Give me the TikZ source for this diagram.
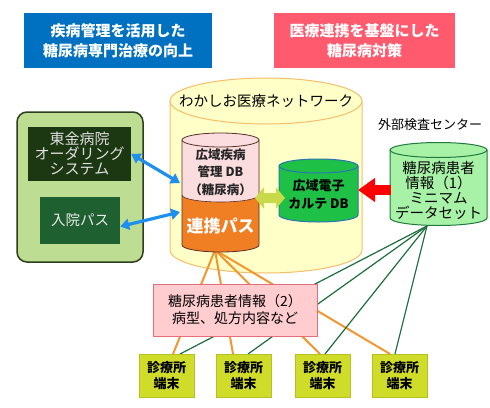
\documentclass[tikz,border=0pt]{standalone}
\usepackage{fontspec}
\setmainfont{Noto Sans CJK JP}
\usetikzlibrary{arrows.meta}
\definecolor{tblue}{HTML}{0070C0}
\definecolor{tpink}{HTML}{FF5A6E}
\definecolor{cylY}{HTML}{FFFFC8}
\definecolor{cylYe}{HTML}{F5BE6A}
\definecolor{panel}{HTML}{BCDD92}
\definecolor{panele}{HTML}{2C3E1E}
\definecolor{darkbox}{HTML}{1C3812}
\definecolor{nyuin}{HTML}{1E6030}
\definecolor{pkcyl}{HTML}{FBDDE0}
\definecolor{pkcyle}{HTML}{5A2E2A}
\definecolor{orcyl}{HTML}{F07E22}
\definecolor{grcyl}{HTML}{1EC046}
\definecolor{grcyle}{HTML}{2E74B5}
\definecolor{ltcyl}{HTML}{A8F2A8}
\definecolor{ltcyle}{HTML}{1F7A3C}
\definecolor{pbox}{HTML}{FFCCCF}
\definecolor{pboxe}{HTML}{E66E7A}
\definecolor{term}{HTML}{D0DC2A}
\definecolor{terme}{HTML}{B3C21E}
\definecolor{oline}{HTML}{F3962E}
\definecolor{gline}{HTML}{1C6E3C}
\definecolor{barrow}{HTML}{1E8FEF}
\definecolor{yarrow}{HTML}{C8D94A}
\begin{document}
\begin{tikzpicture}[x=1pt,y=1pt,
  titlebox/.style={minimum width=#1, minimum height=55pt, inner sep=0pt, align=center, text=white,
    font=\fontsize{15}{20}\selectfont\bfseries},
  termbox/.style={draw=terme, fill=term, line width=0.8pt, minimum width=55pt, minimum height=43pt,
    inner sep=0pt, align=center, font=\fontsize{13}{16}\selectfont\bfseries},
  orl/.style={draw=oline, line width=2pt},
  grl/.style={draw=gline, line width=1.2pt},
  blarrow/.style={draw=barrow, line width=3.2pt, {Triangle[length=9pt,width=11pt]}-{Triangle[length=9pt,width=11pt]}},
  lbl/.style={inner sep=0pt, align=center}]
\useasboundingbox (0,0) rectangle (490,-407);
% title boxes
\node[titlebox=188pt, fill=tblue] (t1) at (118,-40.5) {疾病管理を活用した\\糖尿病専門治療の向上};
\node[titlebox=181pt, fill=tpink] (t2) at (364.5,-40.5) {医療連携を基盤にした\\糖尿病対策};
% big yellow cylinder
\fill[cylY] (170,-101) -- (170,-250) arc[start angle=180,end angle=360,x radius=96,y radius=23] -- (362,-101) -- cycle;
\draw[cylYe, line width=1pt] (170,-101) -- (170,-250) arc[start angle=180,end angle=360,x radius=96,y radius=23] -- (362,-101);
\filldraw[fill=cylY, draw=cylYe, line width=1pt] (266,-101) ellipse [x radius=96, y radius=23];
\node[lbl, font=\fontsize{14.5}{16}\selectfont] (net) at (266,-101) {わかしお医療ネットワーク};
% left panel
\draw[fill=panel, draw=panele, line width=1.5pt, rounded corners=10pt] (17,-112) rectangle (143,-262);
\node[fill=darkbox, minimum width=103pt, minimum height=54pt, inner sep=0pt, align=center, text=white!88!black,
  font=\fontsize{15}{15}\selectfont] (order) at (79.5,-154) {東金病院\\オーダリング\\システム};
\node[fill=nyuin, minimum width=80pt, minimum height=47pt, inner sep=0pt, text=white!92!black,
  font=\fontsize{14.5}{16}\selectfont] (nyuin) at (80,-220.5) {入院パス};
% connection points
\coordinate (ofan) at (215,-250);
\coordinate (gfan) at (427,-226);
\path (166.5,-375.5) coordinate (c1) (243.5,-375.5) coordinate (c2) (322.5,-375.5) coordinate (c3) (399.5,-375.5) coordinate (c4);
% orange lines
\draw[orl] (ofan) -- ([xshift=6.5pt,yshift=21.5pt]c1);
\draw[orl] (ofan) -- ([xshift=-10.5pt,yshift=21.5pt]c2);
\draw[orl] (ofan) -- ([xshift=-2.5pt,yshift=21.5pt]c3);
\draw[orl] (ofan) -- ([xshift=-9.5pt,yshift=21.5pt]c4);
% green lines
\draw[grl] (gfan) -- ([xshift=13.5pt,yshift=21.5pt]c1);
\draw[grl] (gfan) -- ([xshift=4.5pt,yshift=21.5pt]c2);
\draw[grl] (gfan) -- ([xshift=2.5pt,yshift=21.5pt]c3);
\draw[grl] (gfan) -- ([xshift=-4.5pt,yshift=21.5pt]c4);
% pink/orange cylinder
\fill[orcyl] (182,-140) -- (182,-245) arc[start angle=180,end angle=360,x radius=38.5,y radius=7] -- (259,-140) -- cycle;
\fill[pkcyl] (182,-140) -- (182,-195) arc[start angle=180,end angle=360,x radius=38.5,y radius=7] -- (259,-140) -- cycle;
\draw[pkcyle, line width=0.8pt] (182,-140) -- (182,-245) arc[start angle=180,end angle=360,x radius=38.5,y radius=7] -- (259,-140);
\draw[pkcyle, line width=0.6pt] (182,-195) arc[start angle=180,end angle=360,x radius=38.5,y radius=7];
\filldraw[fill=pkcyl, draw=pkcyle, line width=0.8pt] (220.5,-140) ellipse [x radius=38.5, y radius=7];
\node[lbl, font=\fontsize{12.5}{17.5}\selectfont\bfseries, text=black!85] (kdb) at (220.5,-172) {広域疾病\\管理 DB\\（糖尿病）};
\node[lbl, font=\fontsize{17}{18}\selectfont\bfseries, text=white] (rpass) at (220.5,-226) {連携パス};
% green cylinder
\fill[grcyl] (279,-166) -- (279,-215) arc[start angle=180,end angle=360,x radius=39.5,y radius=7] -- (358,-166) -- cycle;
\draw[grcyle, line width=1pt] (279,-166) -- (279,-215) arc[start angle=180,end angle=360,x radius=39.5,y radius=7] -- (358,-166);
\filldraw[fill=grcyl, draw=grcyle, line width=1pt] (318.5,-166) ellipse [x radius=39.5, y radius=7];
\node[lbl, font=\fontsize{13}{18}\selectfont\bfseries] (edb) at (318.5,-194) {広域電子\\カルテ DB};
% right cylinder
\fill[ltcyl] (390,-150) -- (390,-218) arc[start angle=180,end angle=360,x radius=48.5,y radius=7.5] -- (487,-150) -- cycle;
\draw[ltcyle, line width=1pt] (390,-150) -- (390,-218) arc[start angle=180,end angle=360,x radius=48.5,y radius=7.5] -- (487,-150);
\filldraw[fill=ltcyl, draw=ltcyle, line width=1pt] (438.5,-150) ellipse [x radius=48.5, y radius=7.5];
\node[lbl, font=\fontsize{14.5}{15}\selectfont] (min) at (438.5,-190) {糖尿病患者\\情報（1）\\ミニマム\\データセット};
\node[lbl, font=\fontsize{13}{14}\selectfont] (ext) at (430,-125) {外部検査センター};
% arrows
\coordinate (pk1) at (180,-183);
\coordinate (pk2) at (180,-212);
\draw[blarrow] (order.east) -- (pk1);
\draw[blarrow] ([yshift=-6pt]nyuin.east) -- (pk2);
\coordinate (ya) at (255,-198);
\coordinate (yb) at (285,-198);
\draw[yarrow, line width=10pt, {Triangle[length=9pt,width=21pt]}-{Triangle[length=9pt,width=21pt]}] (ya) -- (yb);
\coordinate (ra) at (391,-190);
\coordinate (rb) at (358,-190);
\draw[red, line width=10pt, -{Triangle[length=17pt,width=23pt]}] (ra) -- (rb);
% pink info box
\node[draw=pboxe, fill=pbox, line width=1pt, minimum width=164pt, minimum height=52pt, inner sep=0pt, align=center,
  font=\fontsize{14}{17}\selectfont] (info2) at (235,-310) {糖尿病患者情報（2）\\病型、処方内容など};
% terminals
\node[termbox] (k1) at (c1) {診療所\\端末};
\node[termbox] (k2) at (c2) {診療所\\端末};
\node[termbox] (k3) at (c3) {診療所\\端末};
\node[termbox] (k4) at (c4) {診療所\\端末};
\end{tikzpicture}
\end{document}
